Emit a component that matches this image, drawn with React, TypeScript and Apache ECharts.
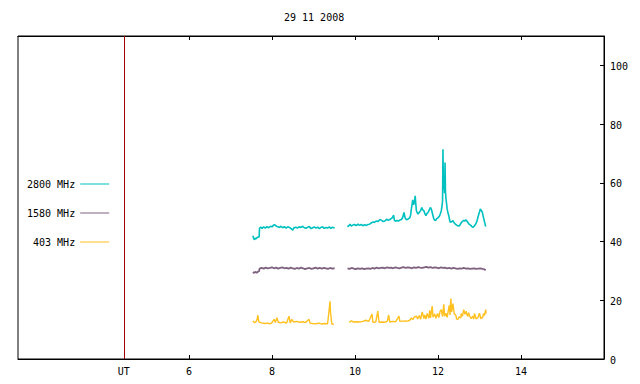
import React, { useEffect, useRef } from "react";
import * as echarts from "echarts";

const titleText = "29 11 2008";
const seriesNames = ["2800 MHz", "1580 MHz", "403 MHz"];
const seriesColors = ["#00c0c0", "#7f607f", "#ffc020"];
const xTicks = [6, 8, 10, 12, 14];
const utHour = 4.43;
const yTicks = [0, 20, 40, 60, 80, 100];
const gapHour = 9.66;

// 2800 MHz
const t2800a = [7.54, 7.56, 7.58, 7.6, 7.62, 7.64, 7.67, 7.69, 7.7, 7.73, 7.76, 7.8, 7.84, 7.88, 7.92, 7.96, 8.0, 8.04, 8.07, 8.1, 8.14, 8.18, 8.22, 8.26, 8.3, 8.34, 8.38, 8.42, 8.46, 8.5, 8.53, 8.57, 8.61, 8.65, 8.7, 8.74, 8.78, 8.82, 8.86, 8.9, 8.94, 8.98, 9.02, 9.06, 9.1, 9.14, 9.18, 9.22, 9.26, 9.3, 9.34, 9.38, 9.42, 9.46, 9.51];
const v2800a = [42.0, 41.0, 40.6, 41.2, 40.9, 41.4, 41.5, 41.6, 44.6, 44.9, 44.5, 45.0, 44.6, 45.1, 44.7, 45.2, 45.0, 45.6, 45.7, 45.3, 45.0, 44.8, 45.2, 44.7, 45.1, 44.6, 45.0, 44.8, 44.4, 43.9, 44.7, 44.9, 44.6, 45.0, 44.8, 45.2, 44.7, 44.5, 44.9, 45.1, 44.4, 44.7, 45.0, 44.6, 44.9, 44.4, 44.8, 45.0, 44.5, 44.8, 44.6, 45.0, 44.5, 44.9, 44.6];
const t2800b = [9.82, 9.85, 9.88, 9.91, 9.95, 9.99, 10.03, 10.07, 10.11, 10.15, 10.19, 10.23, 10.27, 10.31, 10.35, 10.4, 10.44, 10.47, 10.51, 10.55, 10.6, 10.64, 10.68, 10.72, 10.76, 10.8, 10.84, 10.88, 10.91, 10.93, 10.95, 10.98, 11.02, 11.05, 11.08, 11.12, 11.15, 11.18, 11.21, 11.24, 11.27, 11.3, 11.32, 11.34, 11.36, 11.38, 11.39, 11.41, 11.43, 11.45, 11.47, 11.48, 11.5, 11.52, 11.55, 11.58, 11.61, 11.63, 11.66, 11.68, 11.71, 11.73, 11.76, 11.79, 11.82, 11.84, 11.86, 11.88, 11.9, 11.92, 11.94, 11.97, 11.99, 12.02, 12.04, 12.06, 12.08, 12.1, 12.11, 12.12, 12.13, 12.14, 12.16, 12.17, 12.18, 12.19, 12.21, 12.22, 12.24, 12.26, 12.28, 12.3, 12.33, 12.36, 12.38, 12.4, 12.43, 12.46, 12.48, 12.5, 12.52, 12.55, 12.59, 12.62, 12.65, 12.67, 12.7, 12.72, 12.75, 12.78, 12.8, 12.82, 12.84, 12.87, 12.91, 12.94, 12.96, 12.99, 13.02, 13.05, 13.07, 13.09, 13.11, 13.13, 13.15];
const v2800b = [45.0, 45.4, 45.9, 45.3, 45.6, 45.8, 45.4, 45.9, 45.5, 45.8, 45.4, 45.7, 45.5, 45.8, 45.9, 46.4, 46.7, 46.5, 47.0, 46.8, 47.5, 47.2, 46.8, 47.0, 47.6, 47.2, 47.5, 47.9, 48.3, 49.0, 47.3, 46.9, 47.2, 47.0, 47.3, 47.5, 48.2, 49.9, 48.0, 47.4, 47.6, 47.9, 48.1, 49.0, 51.3, 53.0, 54.2, 52.5, 53.3, 55.6, 52.0, 50.5, 49.8, 49.4, 50.0, 50.5, 51.6, 50.8, 50.5, 49.6, 48.8, 49.5, 49.9, 50.8, 51.6, 51.0, 49.9, 48.8, 47.7, 47.3, 47.1, 47.8, 48.0, 48.4, 48.8, 49.6, 50.5, 52.5, 53.9, 71.4, 58.0, 60.7, 56.5, 66.9, 57.0, 55.0, 52.5, 51.1, 49.8, 48.8, 47.3, 46.5, 46.8, 47.1, 46.6, 46.2, 45.8, 45.5, 45.4, 45.3, 45.4, 46.2, 46.9, 47.2, 47.0, 47.4, 46.9, 46.5, 45.9, 45.6, 45.4, 45.0, 44.8, 45.2, 46.0, 47.0, 48.2, 49.6, 51.1, 50.4, 49.9, 48.5, 47.4, 46.2, 45.1];

// 1580 MHz
const t1580a = [7.54, 7.57, 7.6, 7.63, 7.67, 7.69, 7.7, 7.75, 7.8, 7.85, 7.9, 7.95, 8.0, 8.05, 8.1, 8.15, 8.2, 8.25, 8.3, 8.35, 8.4, 8.45, 8.5, 8.55, 8.6, 8.65, 8.7, 8.75, 8.8, 8.85, 8.9, 8.95, 9.0, 9.05, 9.1, 9.15, 9.2, 9.25, 9.3, 9.35, 9.4, 9.45, 9.51];
const v1580a = [29.6, 29.3, 29.7, 29.4, 29.8, 29.9, 30.8, 31.0, 30.8, 31.1, 30.9, 31.0, 31.2, 30.9, 31.1, 30.8, 31.0, 31.2, 30.9, 31.0, 30.8, 31.1, 30.9, 30.7, 31.0, 30.8, 31.1, 30.9, 30.6, 30.9, 31.0, 30.7, 30.9, 31.1, 30.8, 31.0, 30.8, 31.0, 30.9, 30.7, 31.0, 30.8, 30.9];
const t1580b = [9.82, 9.87, 9.92, 9.97, 10.02, 10.07, 10.12, 10.17, 10.22, 10.27, 10.32, 10.37, 10.42, 10.47, 10.52, 10.57, 10.62, 10.67, 10.72, 10.77, 10.82, 10.87, 10.92, 10.97, 11.02, 11.07, 11.12, 11.17, 11.22, 11.27, 11.32, 11.37, 11.42, 11.47, 11.52, 11.57, 11.62, 11.67, 11.72, 11.77, 11.82, 11.87, 11.92, 11.97, 12.02, 12.07, 12.12, 12.17, 12.22, 12.27, 12.32, 12.37, 12.42, 12.47, 12.52, 12.57, 12.62, 12.67, 12.72, 12.77, 12.82, 12.87, 12.92, 12.97, 13.02, 13.07, 13.11, 13.15];
const v1580b = [30.9, 30.7, 31.0, 30.8, 30.6, 30.9, 30.7, 30.9, 30.6, 30.8, 30.9, 30.7, 31.0, 30.8, 31.1, 30.9, 31.0, 31.1, 30.9, 31.2, 31.0, 31.1, 30.9, 31.2, 31.0, 30.9, 31.1, 31.3, 31.0, 31.2, 31.1, 30.9, 31.2, 31.0, 31.3, 31.1, 31.0, 31.2, 31.4, 31.1, 31.3, 31.0, 31.2, 31.1, 30.9, 31.2, 31.0, 31.1, 30.9, 31.0, 30.8, 31.0, 30.9, 30.7, 30.9, 30.8, 31.0, 30.8, 30.9, 30.7, 30.8, 30.9, 30.7, 30.8, 30.9, 30.7, 30.6, 30.2];

// 403 MHz
const t403a = [7.54, 7.56, 7.58, 7.61, 7.64, 7.66, 7.68, 7.7, 7.75, 7.82, 7.9, 7.94, 7.99, 8.05, 8.08, 8.12, 8.15, 8.21, 8.28, 8.35, 8.41, 8.44, 8.48, 8.52, 8.59, 8.67, 8.74, 8.81, 8.89, 8.92, 8.98, 9.05, 9.13, 9.2, 9.27, 9.34, 9.4, 9.41, 9.44, 9.49];
const v403a = [13.0, 12.6, 12.4, 12.6, 13.4, 14.9, 12.8, 12.5, 12.3, 12.1, 12.2, 12.0, 12.2, 13.5, 12.4, 14.1, 12.5, 12.3, 12.6, 12.2, 14.6, 12.3, 13.5, 12.6, 12.8, 12.5, 12.7, 12.4, 13.5, 12.2, 12.1, 12.0, 12.2, 11.9, 12.1, 12.0, 19.7, 16.0, 12.0, 11.7];
const t403b = [9.86, 9.91, 9.97, 10.04, 10.11, 10.19, 10.26, 10.33, 10.41, 10.43, 10.5, 10.55, 10.58, 10.64, 10.72, 10.78, 10.81, 10.84, 10.91, 10.98, 11.06, 11.08, 11.15, 11.22, 11.27, 11.32, 11.36, 11.39, 11.43, 11.48, 11.51, 11.55, 11.58, 11.62, 11.66, 11.68, 11.71, 11.74, 11.78, 11.8, 11.82, 11.86, 11.88, 11.92, 11.95, 11.99, 12.02, 12.05, 12.08, 12.11, 12.14, 12.16, 12.19, 12.22, 12.27, 12.29, 12.31, 12.33, 12.36, 12.39, 12.43, 12.45, 12.48, 12.51, 12.55, 12.56, 12.59, 12.62, 12.65, 12.68, 12.71, 12.74, 12.76, 12.8, 12.84, 12.86, 12.88, 12.92, 12.96, 12.98, 13.0, 13.03, 13.06, 13.07, 13.1, 13.12, 13.15, 13.16];
const v403b = [12.4, 13.0, 12.6, 12.7, 12.6, 12.8, 13.2, 12.8, 15.3, 12.5, 12.6, 16.3, 12.5, 12.6, 12.5, 12.9, 14.9, 12.6, 12.8, 12.7, 14.6, 12.8, 12.9, 13.0, 12.9, 13.2, 14.0, 13.4, 14.3, 14.6, 13.6, 14.8, 13.5, 16.0, 13.8, 15.0, 13.6, 15.5, 13.9, 16.6, 14.0, 18.0, 14.2, 15.3, 13.9, 15.5, 14.1, 16.2, 16.8, 14.4, 18.6, 14.6, 15.6, 14.2, 18.3, 15.0, 20.6, 16.0, 18.9, 15.5, 14.9, 13.6, 13.5, 14.4, 14.0, 15.5, 14.6, 16.8, 15.2, 16.3, 14.5, 15.8, 14.6, 13.8, 14.6, 13.6, 15.5, 13.7, 14.0, 14.9, 15.6, 13.7, 14.2, 13.9, 15.5, 14.8, 16.8, 15.5];

function build(ta: number[], va: number[], tb: number[], vb: number[]) {
  const out: (number | null)[][] = [];
  ta.forEach((t, i) => out.push([t, va[i]]));
  out.push([gapHour, null]);
  tb.forEach((t, i) => out.push([t, vb[i]]));
  return out;
}

const FONT = "DejaVu Sans Mono";
const lineWidths = [1.6, 1.8, 1.4];

export default function App() {
  const ref = useRef<HTMLDivElement>(null);
  useEffect(() => {
    if (!ref.current) return;
    const chart = echarts.init(ref.current, undefined, { renderer: "svg" });
    const datasets = [
      build(t2800a, v2800a, t2800b, v2800b),
      build(t1580a, v1580a, t1580b, v1580b),
      build(t403a, v403a, t403b, v403b),
    ];
    const option: any = {
      animation: false,
      backgroundColor: "#ffffff",
      textStyle: { fontFamily: FONT },
      title: {
        text: titleText,
        left: 284,
        top: 12,
        padding: 0,
        textStyle: { fontFamily: FONT, fontSize: 10, fontWeight: "normal", color: "#000" },
      },
      grid: {
        left: 18,
        right: 36,
        top: 36,
        bottom: 25,
        show: true,
        borderColor: "#000",
        borderWidth: 1,
        containLabel: false,
      },
      legend: {
        orient: "vertical",
        left: 27,
        top: 179,
        padding: 0,
        align: "right",
        icon: "rect",
        itemWidth: 29,
        itemHeight: 1,
        itemGap: 19,
        data: seriesNames,
        selectedMode: false,
        textStyle: { fontFamily: FONT, fontSize: 10, color: "#000" },
      },
      xAxis: [
        {
          type: "value",
          position: "bottom",
          min: 1.88,
          max: 16,
          splitLine: { show: false },
          axisLine: { show: true, lineStyle: { color: "#000", width: 1 } },
          axisTick: { show: true, inside: true, length: 4, customValues: xTicks, lineStyle: { color: "#000" } },
          axisLabel: {
            show: true,
            margin: 7,
            customValues: [utHour, ...xTicks],
            color: "#000",
            fontFamily: FONT,
            fontSize: 10,
            formatter: (v: number) => (Math.abs(v - utHour) < 0.01 ? "UT" : String(v)),
          },
        },
        {
          type: "value",
          position: "top",
          min: 1.88,
          max: 16,
          splitLine: { show: false },
          axisLine: { show: true, lineStyle: { color: "#000", width: 1 } },
          axisTick: { show: true, inside: true, length: 4, customValues: xTicks, lineStyle: { color: "#000" } },
          axisLabel: { show: false },
        },
      ],
      yAxis: [
        {
          type: "value",
          position: "right",
          min: 0,
          max: 110,
          splitLine: { show: false },
          axisLine: { show: true, lineStyle: { color: "#000", width: 1 } },
          axisTick: { show: true, inside: true, length: 4, customValues: yTicks, lineStyle: { color: "#000" } },
          axisLabel: {
            show: true,
            margin: 6,
            customValues: yTicks,
            color: "#000",
            fontFamily: FONT,
            fontSize: 10,
            verticalAlign: "top",
            padding: [-4, 0, 0, 0],
          },
        },
      ],
      series: seriesNames.map((name, i) => ({
        name,
        type: "line",
        xAxisIndex: 0,
        yAxisIndex: 0,
        data: datasets[i],
        showSymbol: false,
        symbol: "none",
        connectNulls: false,
        color: seriesColors[i],
        lineStyle: { width: lineWidths[i], color: seriesColors[i] },
        z: 3 - i,
        markLine:
          i === 0
            ? {
                silent: true,
                symbol: ["none", "none"],
                label: { show: false },
                lineStyle: { color: "#a00000", type: "solid", width: 1, opacity: 1 },
                emphasis: { disabled: true },
                data: [{ xAxis: utHour }],
              }
            : undefined,
      })),
    };
    chart.setOption(option);
    return () => chart.dispose();
  }, []);
  return (
    <div
      ref={ref}
      style={{ position: "fixed", left: 0, top: 0, width: 640, height: 384 }}
    />
  );
}
